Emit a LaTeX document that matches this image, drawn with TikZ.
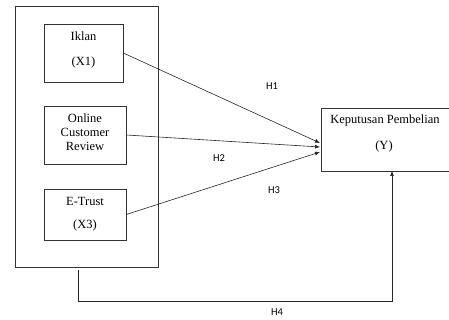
\documentclass[tikz,border=0pt]{standalone}
\usepackage{fontspec}
\setmainfont{Liberation Serif}
\newfontfamily\labfont{Carlito}
\usetikzlibrary{arrows.meta,calc}
\begin{document}
\begin{tikzpicture}[x=1pt,y=-1pt,
  box/.style={draw=black!80,line width=0.6pt,rectangle,inner sep=0pt},
  btext/.style={font=\fontsize{12.5}{14}\selectfont,align=center,inner sep=0pt},
  hlab/.style={font=\labfont\fontsize{10.5}{12}\selectfont,inner sep=0pt},
  conn/.style={draw=black!85,line width=0.6pt},
  arr/.style={conn,-{Latex[length=5pt,width=4pt]}}]
\useasboundingbox (0,0) rectangle (449,320);
\clip (0,0) rectangle (449,320);
% outer frame
\node[box,minimum width=143pt,minimum height=261pt] (outer) at (86.5,136.5) {};
% inner boxes
\node[box,minimum width=79pt,minimum height=58pt] (x1) at (83.5,53) {};
\node[btext] (x1a) at (83.5,36) {Iklan};
\node[btext] (x1b) at (83.5,62) {(X1)};
\node[box,minimum width=82pt,minimum height=58pt] (x2) at (85,135) {};
\node[btext] (x2t) at (85,132) {Online\\Customer\\Review};
\node[box,minimum width=82pt,minimum height=51pt] (x3) at (85,214.5) {};
\node[btext] (x3a) at (85,201) {E-Trust};
\node[btext] (x3b) at (85,225) {(X3)};
\node[box,minimum width=132pt,minimum height=63pt] (y) at (387,139.5) {};
\node[btext] (ya) at (385,120) {Keputusan Pembelian};
\node[btext] (yb) at (384,146) {(Y)};
% arrow tips
\coordinate (t1) at (320,143);
\coordinate (t2) at (320,147);
\coordinate (t3) at (320,152);
\draw[arr] (x1.east) -- (t1);
\draw[arr] (x2.east) -- (t2);
\draw[arr] (x3.east) -- (t3);
% H4 path
\coordinate (h4s) at (78,270);
\coordinate (h4a) at (78,301);
\coordinate (h4b) at (392,301);
\coordinate (h4t) at (392,171);
\draw[arr] (h4s) -- (h4a) -- (h4b) -- (h4t);
% labels
\node[hlab] (h1) at (272,86) {H1};
\node[hlab] (h2) at (219,158) {H2};
\node[hlab] (h3) at (274,190) {H3};
\node[hlab] (h4) at (277,312) {H4};
\end{tikzpicture}
\end{document}
